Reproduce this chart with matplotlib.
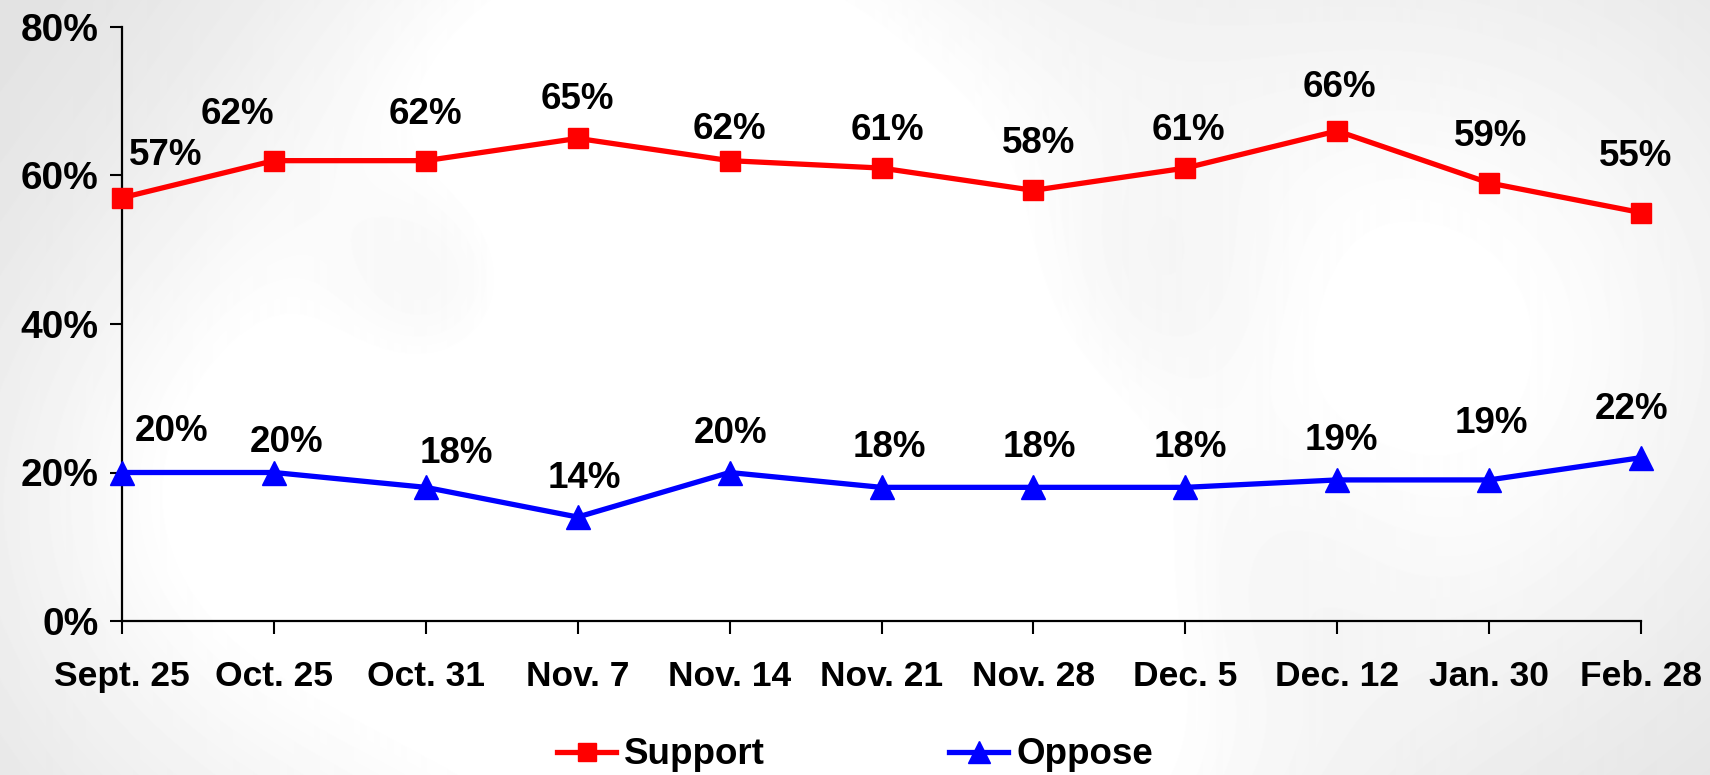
import matplotlib
matplotlib.use("Agg")
import matplotlib.pyplot as plt
import numpy as np

dates = ["Sept. 25", "Oct. 25", "Oct. 31", "Nov. 7", "Nov. 14", "Nov. 21",
         "Nov. 28", "Dec. 5", "Dec. 12", "Jan. 30", "Feb. 28"]
support = [57, 62, 62, 65, 62, 61, 58, 61, 66, 59, 55]
oppose = [20, 20, 18, 14, 20, 18, 18, 18, 19, 19, 22]

# label offsets in pixels (dx, dy) from each point, hand placed like the original
support_off = [(44, 42), (-36, 46), (0, 46), (0, 39), (0, 31), (6, 38),
               (5, 47), (3, 38), (2, 43), (2, 46), (-5, 56)]
oppose_off = [(50, 41), (13, 30), (31, 34), (7, 39), (1, 39), (8, 40),
              (6, 40), (5, 40), (4, 39), (2, 56), (-9, 48)]

plt.rcParams['font.family'] = ['Liberation Sans', 'DejaVu Sans']
plt.rcParams['font.weight'] = 'bold'

W, H = 1710, 775
fig = plt.figure(figsize=(W / 100, H / 100), dpi=100)

# soft grey backdrop with lighter patches
bg = fig.add_axes([0, 0, 1, 1], zorder=-5)
yy, xx = np.mgrid[0:H, 0:W]
img = np.full((H, W), 0.87)
for cx, cy, r, a in [(650, 120, 260, 0.11), (650, 560, 380, 0.14),
                     (1450, 330, 300, 0.12), (1000, 700, 250, 0.08),
                     (200, 500, 200, 0.06)]:
    img += a * np.exp(-((xx - cx) ** 2 + (yy - cy) ** 2) / (2 * r ** 2))
for cx, cy, r, a in [(450, 290, 90, 0.07), (1250, 560, 120, 0.05),
                     (1150, 300, 110, 0.05)]:
    img -= a * np.exp(-((xx - cx) ** 2 + (yy - cy) ** 2) / (2 * r ** 2))
img = np.clip(img, 0, 1)
bg.imshow(img, cmap='gray', vmin=0, vmax=1, aspect='auto')
bg.axis('off')

ax = fig.add_axes([122 / W, 1 - 621 / H, (1641 - 122) / W, (621 - 27) / H])
ax.set_facecolor('none')
x = np.arange(len(dates))

ax.plot(x, support, color='#ff0000', lw=3.8, marker='s', ms=15,
        label='Support', clip_on=False, zorder=3)
ax.plot(x, oppose, color='#0000ff', lw=3.8, marker='^', ms=17,
        label='Oppose', clip_on=False, zorder=3)

for vals, offs in [(support, support_off), (oppose, oppose_off)]:
    for i, v in enumerate(vals):
        dx, dy = offs[i]
        ax.annotate(f"{v}%", (x[i], v), xytext=(dx * 0.72, dy * 0.72),
                    textcoords='offset points', ha='center', va='center',
                    fontsize=26.5, fontweight='bold', color='black')

ax.set_xlim(0, len(dates) - 1)
ax.set_ylim(0, 80)
ax.set_yticks([0, 20, 40, 60, 80])
ax.set_yticklabels([f"{t}%" for t in [0, 20, 40, 60, 80]])
ax.set_xticks(x)
ax.set_xticklabels(dates)
ax.tick_params(axis='y', labelsize=28, length=9, width=1.5, pad=8)
ax.tick_params(axis='x', labelsize=25.5, length=9, width=1.5, pad=19)
for s in ['top', 'right']:
    ax.spines[s].set_visible(False)
for s in ['left', 'bottom']:
    ax.spines[s].set_linewidth(1.6)

fig.legend(loc='center', bbox_to_anchor=(0.5, 1 - 755 / H), ncol=2, frameon=False,
           fontsize=26.5, handlelength=1.6, handletextpad=0.22,
           columnspacing=5.0, markerscale=0.9)

fig.savefig('out.png', dpi=100)
